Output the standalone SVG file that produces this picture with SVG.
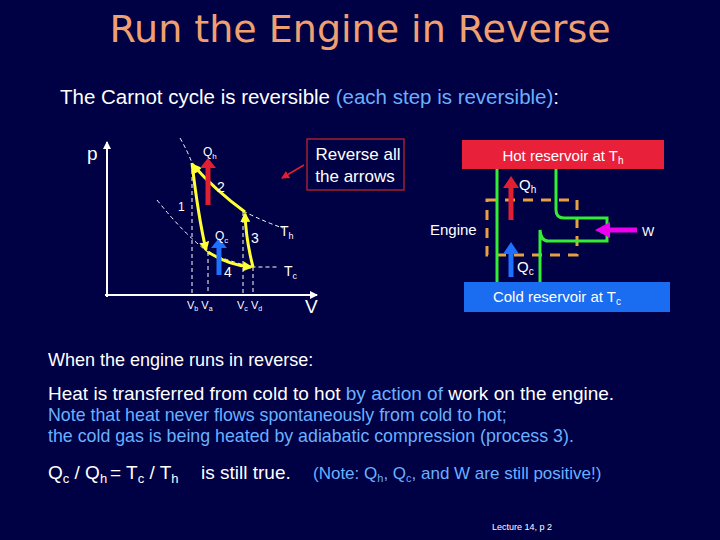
<svg xmlns="http://www.w3.org/2000/svg" width="720" height="540" viewBox="0 0 720 540">
<defs>
<style>
text{font-family:"Liberation Sans",Arial,sans-serif;fill:#fff}
.b{fill:#6ab0ff}
.y{stroke:#ffff33;stroke-width:3;fill:none;marker-end:url(#ya)}
.d{stroke:#fff;stroke-width:1;stroke-dasharray:4,3;fill:none}
.g{stroke:#33ee33;stroke-width:3;fill:none}
</style>
<marker id="ya" markerWidth="10" markerHeight="10" refX="8" refY="5" orient="auto" markerUnits="userSpaceOnUse"><path d="M0,0L10,5L0,10Z" fill="#ffff33"/></marker>
<marker id="ax" markerWidth="8" markerHeight="8" refX="7" refY="4" orient="auto" markerUnits="userSpaceOnUse"><path d="M0,0L8,4L0,8Z" fill="#fff"/></marker>
<marker id="ra" markerWidth="8" markerHeight="8" refX="7" refY="4" orient="auto" markerUnits="userSpaceOnUse"><path d="M0,0L8,4L0,8Z" fill="#e02030"/></marker>
</defs>
<rect width="720" height="540" fill="#000044"/>
<text x="360" y="42" text-anchor="middle" font-size="38" style="fill:#f0a070;font-family:'DejaVu Sans',sans-serif">Run the Engine in Reverse</text>
<text x="60" y="104" font-size="20.5">The Carnot cycle is reversible <tspan class="b">(each step is reversible)</tspan>:</text>
<g id="pv">
<path d="M105,295H317" stroke="#fff" stroke-width="2" fill="none" marker-end="url(#ax)"/>
<path d="M107,297V142" stroke="#fff" stroke-width="2" marker-end="url(#ax)"/>
<path class="d" d="M180,138Q188,152 192,163Q220,195 245,212Q265,222 283,228"/>
<path class="d" d="M157,200Q185,235 208,252Q230,262 253,267H278"/>
<path class="d" d="M192,163V295M208,252V295M243,212V295M253,267V295"/>
<path class="y" d="M192,163Q198,215 206,250"/>
<path class="y" d="M245,212Q215,190 193,165"/>
<path class="y" d="M253,267Q246,240 245,214"/>
<path class="y" d="M208,252Q228,265 251,267"/>
<path d="M208,205V168" stroke="#e02030" stroke-width="5"/><path d="M200,168L208,158L216,168Z" fill="#e02030"/>
<path d="M219,275V246" stroke="#2070ff" stroke-width="5"/><path d="M211,248L219,238L227,248Z" fill="#2070ff"/>
<text x="87" y="160" font-size="19">p</text>
<text x="203" y="156" font-size="12">Q<tspan font-size="8" dy="3">h</tspan></text>
<text x="217" y="192" font-size="14">2</text>
<text x="178" y="211" font-size="12">1</text>
<text x="215" y="240" font-size="12">Q<tspan font-size="8" dy="3">c</tspan></text>
<text x="251" y="243" font-size="14">3</text>
<text x="224" y="277" font-size="14">4</text>
<text x="280" y="236" font-size="14">T<tspan font-size="9" dy="3">h</tspan></text>
<text x="284" y="276" font-size="14">T<tspan font-size="9" dy="3">c</tspan></text>
<text x="305" y="313" font-size="19">V</text>
<text x="187" y="309" font-size="11">V<tspan font-size="7" dy="2">b</tspan><tspan dy="-2"> V</tspan><tspan font-size="7" dy="2">a</tspan></text>
<text x="237" y="309" font-size="11">V<tspan font-size="7" dy="2">c</tspan><tspan dy="-2"> V</tspan><tspan font-size="7" dy="2">d</tspan></text>
</g>
<g id="rev">
<rect x="307" y="139" width="97" height="51" fill="none" stroke="#a02030" stroke-width="1.5"/>
<text x="358" y="160" font-size="17" text-anchor="middle">Reverse all</text>
<text x="355" y="182" font-size="17" text-anchor="middle">the arrows</text>
<path d="M304,165L282,178" stroke="#e02030" stroke-width="1.5" marker-end="url(#ra)"/>
</g>
<g id="engine">
<rect x="462" y="140" width="202" height="29" fill="#e8203a"/>
<text x="563" y="161" font-size="15" text-anchor="middle">Hot reservoir at T<tspan font-size="10" dy="3">h</tspan></text>
<rect x="464" y="282" width="206" height="30" fill="#1a6cf0"/>
<text x="557" y="302" font-size="15" text-anchor="middle">Cold reservoir at T<tspan font-size="10" dy="3">c</tspan></text>
<path d="M487,200H577V255H487Z" fill="none" stroke="#e8a040" stroke-width="3" stroke-dasharray="10,8"/>
<path class="g" d="M497,169V282"/>
<path class="g" d="M556,169V210Q556,218 564,218H607V241H548Q541,241 540,230V282"/>
<path d="M511,220V186" stroke="#e02030" stroke-width="5"/><path d="M503,188L511,176L519,188Z" fill="#e02030"/>
<path d="M511,277V252" stroke="#2070ff" stroke-width="5"/><path d="M503,254L511,242L519,254Z" fill="#2070ff"/>
<path d="M637,230H608" stroke="#ee00ee" stroke-width="5"/><path d="M610,222L595,230L610,238Z" fill="#ee00ee"/>
<text x="519" y="190" font-size="15">Q<tspan font-size="10" dy="3">h</tspan></text>
<text x="517" y="272" font-size="15">Q<tspan font-size="10" dy="3">c</tspan></text>
<text x="430" y="235" font-size="15">Engine</text>
<text x="642" y="236" font-size="13">W</text>
</g>
<g>
<text x="48" y="366" font-size="18">When the engine runs in reverse:</text>
<text x="48" y="400" font-size="19">Heat is transferred from cold to hot <tspan class="b">by action of</tspan> work on the engine.</text>
<text x="48" y="421" font-size="17.8" class="b">Note that heat never flows spontaneously from cold to hot;</text>
<text x="48" y="442" font-size="17.8" class="b">the cold gas is being heated by adiabatic compression (process 3).</text>
<text x="48" y="479" font-size="19">Q<tspan font-size="13" dy="4">c</tspan><tspan dy="-4"> / Q</tspan><tspan font-size="13" dy="4">h</tspan></text>
<text x="110" y="479" font-size="19">= T<tspan font-size="13" dy="4">c</tspan><tspan dy="-4"> / T</tspan><tspan font-size="13" dy="4">h</tspan></text>
<text x="201" y="479" font-size="19">is still true.</text>
<text x="313" y="479" font-size="17" class="b">(Note:  Q<tspan font-size="11" dy="3">h</tspan><tspan dy="-3">, Q</tspan><tspan font-size="11" dy="3">c</tspan><tspan dy="-3">, and W are still positive!)</tspan></text>
<text x="492" y="530" font-size="9">Lecture 14, p 2</text>
</g>
</svg>
